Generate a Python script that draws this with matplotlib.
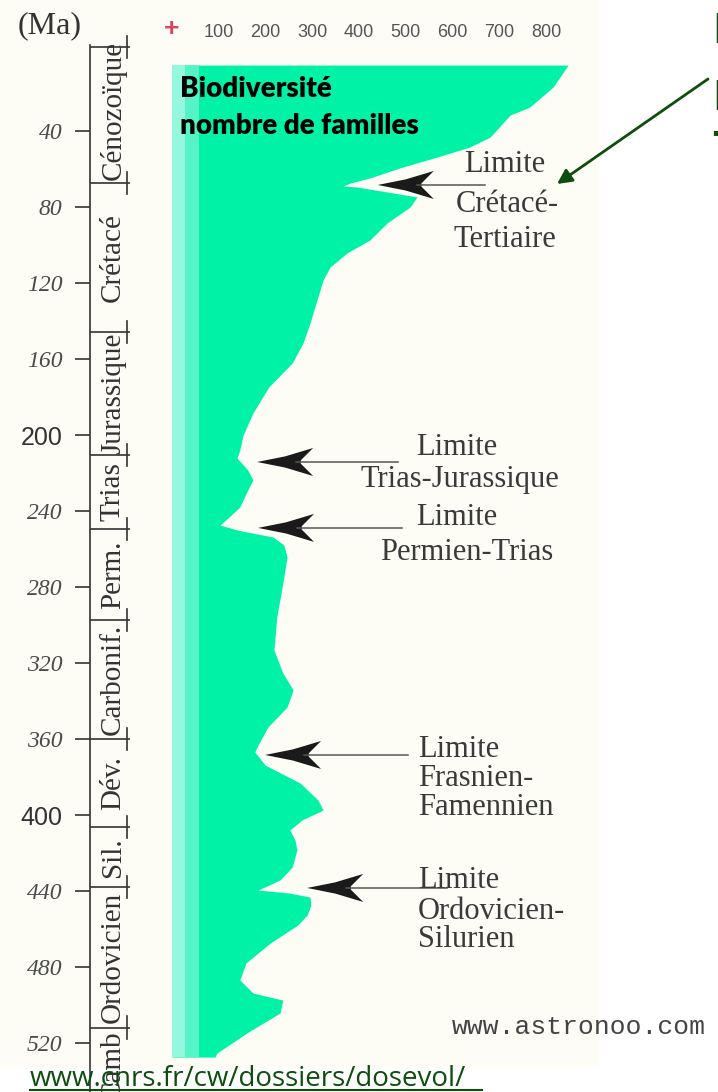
import matplotlib

matplotlib.use("Agg")
import matplotlib.pyplot as plt
from matplotlib.patches import Polygon, Rectangle

# courbe de biodiversité : âge (Ma) et nombre de familles
AGES = [5.3, 16.8, 27.4, 31.6, 43.2, 48.4, 53.7, 58.9, 64.7, 67.4,
        68.9, 69.5, 72.1, 74.7, 80.0, 88.4, 97.4, 104.2, 111.6, 118.4,
        128.9, 141.1, 151.6, 162.1, 174.7, 188.4, 200.0, 207.9, 212.1, 218.4,
        223.7, 228.9, 237.9, 244.7, 247.4, 250.0, 253.7, 257.9, 264.2, 277.9,
        295.8, 313.2, 325.3, 334.2, 343.2, 353.7, 363.2, 366.8, 373.7, 383.2,
        392.1, 397.4, 402.6, 407.9, 413.2, 418.4, 427.4, 434.2, 439.5, 441.1,
        443.2, 447.4, 452.6, 457.9, 467.4, 477.9, 486.8, 493.7, 497.4, 504.2,
        514.7, 525.3, 527.4]
FAMILLES = [847, 815, 765, 723, 680, 637, 567, 494, 423, 381,
            366, 396, 460, 524, 509, 460, 423, 374, 338, 323,
            310, 295, 280, 257, 207, 173, 152, 145, 139, 162,
            173, 162, 145, 115, 103, 139, 216, 239, 246, 237,
            224, 218, 237, 259, 246, 205, 184, 177, 199, 274,
            312, 323, 278, 252, 263, 267, 257, 231, 184, 252,
            295, 297, 289, 269, 210, 158, 145, 173, 237, 231,
            160, 96, 92]

# échelle des temps géologiques
LIMITES = [-4.2, 67.4, 145.8, 210.5, 249.5, 297.4, 360.0, 406.3, 437.9, 512.0]
PERIODES = ["Cénozoïque", "Crétacé", "Jurassique", "Trias", "Perm.",
            "Carbonif.", "Dév.", "Sil.", "Ordovicien", "Camb"]

TICKS_MA = [40, 80, 120, 160, 200, 240, 280, 320, 360, 400, 440, 480, 520]
TICKS_FAMILLES = [0, 100, 200, 300, 400, 500, 600, 700, 800]
LABELS_FAMILLES = ["+", "100", "200", "300", "400", "500", "600", "700", "800"]

# extinctions : âge et familles de la pointe de flèche, bout de la tige
EXT_AGES = [68.4, 214.2, 248.9, 368.4, 438.4]
EXT_POINTE = [440, 182, 184, 199, 289]
EXT_TIGE = [669, 483, 492, 505, 588]
EXT_TEXTES = [
    [("Limite", 505, 172), ("Crétacé-", 507, 212), ("Tertiaire", 505, 247)],
    [("Limite", 457, 455), ("Trias-Jurassique", 460, 487)],
    [("Limite", 457, 525), ("Permien-Trias", 467, 560)],
    [("Limite", 418, 757), ("Frasnien-", 418, 786), ("Famennien", 418, 815)],
    [("Limite", 418, 888), ("Ordovicien-", 418, 919), ("Silurien", 418, 947)],
]

W, H = 718, 1092
X0, PX_FAM = 172, 0.4677
Y0, PX_MA = 55, 1.9
VERT = "#00F2A6"
VERT_FONCE = "#0D4D0D"
GRIS = "#333333"

fig = plt.figure(figsize=(W / 100, H / 100), dpi=100)
fig.patch.set_facecolor("white")
fig.add_artist(Rectangle((0, (H - 1066) / H), 598 / W, 1066 / H,
                         transform=fig.transFigure, color="#FDFDF6", zorder=-1))

gauche, droite, haut = 90, 600, 45
ax = fig.add_axes([gauche / W, 0, (droite - gauche) / W, (H - haut) / H])
ax.patch.set_alpha(0)
ax.set_xlim((gauche - X0) / PX_FAM, (droite - X0) / PX_FAM)
ax.set_ylim((H - Y0) / PX_MA, (haut - Y0) / PX_MA)

ax.fill_betweenx(AGES, 0, FAMILLES, color=VERT, lw=0)
ax.fill_betweenx([AGES[0], AGES[-1]], 0, 28, color="#93F8DE", lw=0)
ax.fill_betweenx([AGES[0], AGES[-1]], 28, 58, color="#55F3C6", lw=0)

for s in ("top", "right", "bottom"):
    ax.spines[s].set_visible(False)
ax.spines["left"].set_linewidth(1.2)
ax.spines["left"].set_color(GRIS)

ax.xaxis.tick_top()
ax.set_xticks(TICKS_FAMILLES, LABELS_FAMILLES)
ax.tick_params(axis="x", length=0, pad=3, labelsize=13, labelcolor="#555555")
for lab in ax.get_xticklabels():
    lab.set_fontfamily("Liberation Sans")
plus = ax.get_xticklabels()[0]
plus.set_color("#E0405F")
plus.set_fontsize(19)
plus.set_fontweight("bold")

ax.set_yticks(TICKS_MA, [str(t) for t in TICKS_MA])
ax.tick_params(axis="y", length=10.8, width=1.2, color=GRIS, pad=9)
for lab in ax.get_yticklabels():
    if lab.get_text() in ("200", "400"):
        lab.set_fontfamily("Liberation Sans")
        lab.set_fontsize(18)
        lab.set_color(GRIS)
    else:
        lab.set_fontfamily("Liberation Serif")
        lab.set_fontstyle("italic")
        lab.set_fontsize(17)
        lab.set_color("#4a4a4a")

# colonne des périodes
bt = ax.get_yaxis_transform()
col_fin = (130 - gauche) / (droite - gauche)
col_barre = (127 - gauche) / (droite - gauche)
col_txt = (113 - gauche) / (droite - gauche)
for b in LIMITES:
    ax.plot([0, col_fin], [b, b], transform=bt, color=GRIS, lw=1.2,
            clip_on=False, solid_capstyle="butt")
    ax.plot([col_barre, col_barre], [b - 6, b + 6], transform=bt, color=GRIS,
            lw=1.2, clip_on=False)
for i, nom in enumerate(PERIODES):
    if i == 0:
        y, va = LIMITES[1] - 1.5, "bottom"
    elif i == len(PERIODES) - 1:
        y, va = LIMITES[i] + 1.5, "top"
    else:
        y, va = (LIMITES[i] + LIMITES[i + 1]) / 2, "center"
    ax.text(col_txt, y, nom, transform=bt, rotation=90, ha="center", va=va,
            fontfamily="Liberation Serif", fontsize=21, color=GRIS, clip_on=True)

# calque en pixels pour les annotations
ov = fig.add_axes([0, 0, 1, 1], zorder=3)
ov.set_xlim(0, W)
ov.set_ylim(H, 0)
ov.axis("off")
ov.patch.set_alpha(0)


def en_pixels(fam, age):
    return ov.transData.inverted().transform(ax.transData.transform((fam, age)))


ov.text(50, 26, "(Ma)", ha="center", va="center", fontfamily="Liberation Serif",
        fontsize=23, color=GRIS)
ov.text(180, 97, "Biodiversité", fontfamily="Lato", fontweight="heavy",
        fontsize=20, color="black", va="baseline")
ov.text(180, 134, "nombre de familles", fontfamily="Lato", fontweight="heavy",
        fontsize=20, color="black", va="baseline")

L, h = 56, 28
for age, pointe, tige, textes in zip(EXT_AGES, EXT_POINTE, EXT_TIGE, EXT_TEXTES):
    tx, ty = en_pixels(pointe, age)
    ex, _ = en_pixels(tige, age)
    ov.plot([tx + 0.7 * L, ex], [ty, ty], color="#555555", lw=1.1)
    forme = [(0, 0), (0.5 * L, -0.2 * h), (L, -0.5 * h), (0.78 * L, -0.06 * h),
             (0.78 * L, 0.06 * h), (L, 0.5 * h), (0.5 * L, 0.2 * h)]
    ov.add_patch(Polygon([(tx + dx, ty + dy) for dx, dy in forme],
                         closed=True, color="#1a1a1a", lw=0))
    for txt, x, y in textes:
        ha = "center" if x > 450 else "left"
        ov.text(x, y, txt, ha=ha, va="baseline", fontfamily="Liberation Serif",
                fontsize=22, color="#3a3a3a")

ov.text(452, 1027, "www.astronoo.com", va="center", fontfamily="Liberation Mono",
        fontsize=19, color="#444444")

ov.text(30, 1086, "www.cnrs.fr/cw/dossiers/dosevol/", va="baseline",
        fontfamily="Open Sans", fontsize=20, color=VERT_FONCE)
ov.plot([30, 482], [1090, 1090], color=VERT_FONCE, lw=1.5)

ov.annotate("", xy=(557, 184), xytext=(708, 79),
            arrowprops=dict(arrowstyle="-|>", color=VERT_FONCE, lw=2,
                            mutation_scale=22, shrinkA=0, shrinkB=0))
for lettre, y in (("L", 43), ("L", 110), ("T", 161)):
    ov.text(712, y, lettre, va="baseline", fontfamily="Open Sans",
            fontweight="bold", fontsize=30, color=VERT_FONCE, clip_on=False)

fig.savefig("out.png", dpi=100, facecolor="white")
